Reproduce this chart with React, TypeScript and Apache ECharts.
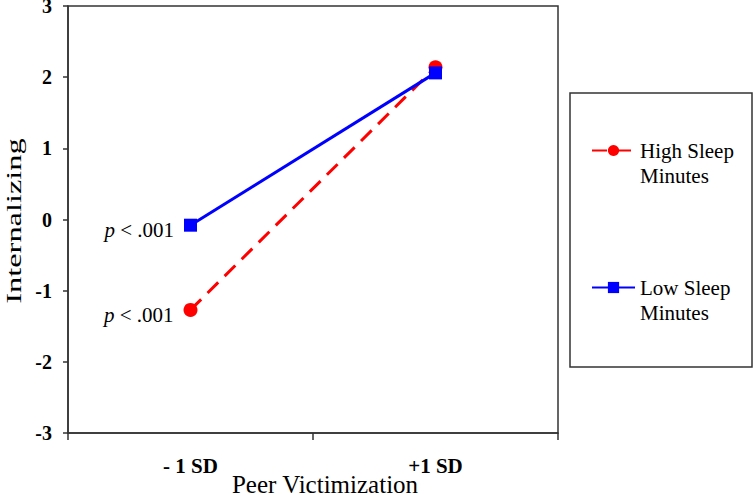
import React, { useEffect, useRef } from "react";
import * as echarts from "echarts";

const categories = ["- 1 SD", "+1 SD"];
const highSleep = [-1.27, 2.14];
const lowSleep = [-0.08, 2.06];
const pLabels = ["p < .001", "p < .001"];
const seriesNames = ["High Sleep\nMinutes", "Low Sleep\nMinutes"];
const xTitle = "Peer Victimization";
const yTitle = "Internalizing";

const FONT = "'Liberation Serif', 'Times New Roman', serif";

function firstPointLabel(text: string) {
  const rest = text.replace(/^p/, "");
  return {
    show: true,
    position: "left",
    distance: 10,
    offset: [0, 5],
    formatter: "{i|p}{n|" + rest + "}",
    rich: {
      i: { fontFamily: FONT, fontStyle: "italic", fontSize: 21, color: "#000" },
      n: { fontFamily: FONT, fontSize: 21, color: "#000" },
    },
  };
}

export default function App() {
  const ref = useRef<HTMLDivElement>(null);
  useEffect(() => {
    if (!ref.current) return;
    const chart = echarts.init(ref.current, undefined, { renderer: "svg" });
    chart.setOption({
      animation: false,
      backgroundColor: "#fff",
      grid: {
        left: 68,
        top: 6,
        right: 195,
        bottom: 64,
        outerBoundsMode: "none",
        containLabel: false,
        show: true,
        borderColor: "#333",
        borderWidth: 1.5,
        backgroundColor: "transparent",
      },
      xAxis: {
        type: "category",
        data: categories,
        boundaryGap: true,
        name: xTitle,
        nameLocation: "middle",
        nameGap: 39,
        nameMoveOverlap: false,
        nameTextStyle: { fontFamily: FONT, fontSize: 25, color: "#000", padding: [0, 0, 0, 24] },
        axisLine: { onZero: false, lineStyle: { color: "#333", width: 1.5 } },
        axisTick: { show: true, length: 7, alignWithLabel: false, lineStyle: { color: "#333", width: 1.5 } },
        axisLabel: { margin: 22, fontFamily: FONT, fontWeight: "bold", fontSize: 21, color: "#000" },
        splitLine: { show: false },
      },
      yAxis: {
        type: "value",
        min: -3,
        max: 3,
        interval: 1,
        axisLine: { show: true, onZero: false, lineStyle: { color: "#333", width: 1.5 } },
        axisTick: { show: true, length: 5, lineStyle: { color: "#333", width: 1.5 } },
        axisLabel: { margin: 16, fontFamily: FONT, fontWeight: "bold", fontSize: 20, color: "#000" },
        splitLine: { show: false },
      },
      legend: {
        orient: "vertical",
        left: 591,
        top: 113,
        padding: 0,
        itemGap: 62,
        itemWidth: 43,
        itemHeight: 14,
        data: seriesNames,
        formatter: (n: string) => "\n" + n,
        textStyle: {
          fontFamily: FONT,
          fontSize: 21,
          color: "#000",
          lineHeight: 25,
        },
      },
      graphic: [
        {
          type: "rect",
          shape: { x: 570, y: 93, width: 182, height: 274 },
          style: { fill: "none", stroke: "#333", lineWidth: 1.5 },
        },
        {
          type: "text",
          x: 14,
          y: 221,
          rotation: Math.PI / 2,
          scaleX: 1.62,
          style: {
            text: yTitle,
            font: "20px " + FONT,
            fill: "#000",
            align: "center",
            verticalAlign: "middle",
          },
        },
      ],
      series: [
        {
          name: seriesNames[0],
          type: "line",
          data: highSleep.map((v, i) => (i === 0 ? { value: v, label: firstPointLabel(pLabels[0]) } : v)),
          symbol: "circle",
          symbolSize: 14,
          color: "#ff0000",
          itemStyle: { color: "#ff0000" },
          lineStyle: { color: "#ff0000", width: 3, type: [15, 9] },
        },
        {
          name: seriesNames[1],
          type: "line",
          data: lowSleep.map((v, i) => (i === 0 ? { value: v, label: firstPointLabel(pLabels[1]) } : v)),
          symbol: "rect",
          symbolSize: 13,
          color: "#0000ff",
          itemStyle: { color: "#0000ff" },
          lineStyle: { color: "#0000ff", width: 3 },
        },
      ],
    });
    return () => chart.dispose();
  }, []);
  return (
    <div
      ref={ref}
      style={{ position: "fixed", left: 0, top: 0, width: 753, height: 497 }}
    />
  );
}
